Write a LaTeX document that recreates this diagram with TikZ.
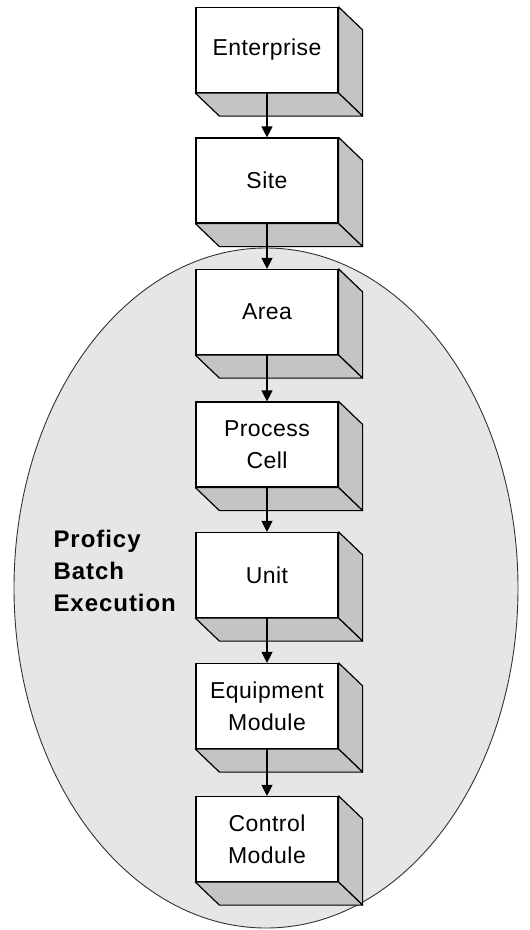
\documentclass[tikz,border=0pt]{standalone}
\usepackage{fontspec}
\usepackage{tikz}
\usetikzlibrary{arrows.meta}

\newfontfamily\boxfont[LetterSpace=2]{Liberation Sans}
\newfontfamily\tagfont[LetterSpace=4]{Liberation Sans}
\definecolor{bevelgray}{RGB}{196,196,196}
\definecolor{zonegray}{RGB}{230,230,230}

\begin{document}
\begin{tikzpicture}[x=1pt,y=-1pt,
		level/.style={draw, line width=1.2pt, fill=white, minimum width=142pt, minimum height=85pt,
			inner sep=0pt, align=center, font=\boxfont\fontsize{23}{32}\selectfont},
		bevel/.style={draw, line width=1.2pt, fill=bevelgray, line join=round},
		link/.style={line width=1.2pt, -{Triangle[width=11pt,length=11pt]}}]
		\useasboundingbox (0,0) rectangle (530,930);

		% batch execution zone
		\filldraw[fill=zonegray, draw=black!80, line width=0.9pt] (266,588) ellipse [x radius=252, y radius=340];
		\node[anchor=base west, align=left, font=\tagfont\bfseries\fontsize{24}{32}\selectfont]
			(batchtag) at (50,611) {Proficy\\Batch\\Execution};

		\node[level] (enterprise) at (267,50) {Enterprise};
		\node[level] (site) at (267,180.5) {Site};
		\node[level] (area) at (267,312) {Area};
		\node[level] (process) at (267,444.5) {Process\\Cell};
		\node[level] (unit) at (267,575) {Unit};
		\node[level] (equipment) at (267,706) {Equipment\\Module};
		\node[level] (control) at (267,839) {Control\\Module};

		\foreach \n in {enterprise,site,area,process,unit,equipment,control}{
			\filldraw[bevel] (\n.north east) -- ([shift={(24,23)}]\n.north east)
				-- ([shift={(24,23)}]\n.south east) -- (\n.south east) -- cycle;
			\filldraw[bevel] (\n.south west) -- ([shift={(24,23)}]\n.south west)
				-- ([shift={(24,23)}]\n.south east) -- (\n.south east) -- cycle;
		}

		\draw[link] (enterprise) -- (site);
		\draw[link] (site) -- (area);
		\draw[link] (area) -- (process);
		\draw[link] (process) -- (unit);
		\draw[link] (unit) -- (equipment);
		\draw[link] (equipment) -- (control);
	\end{tikzpicture}
\end{document}
